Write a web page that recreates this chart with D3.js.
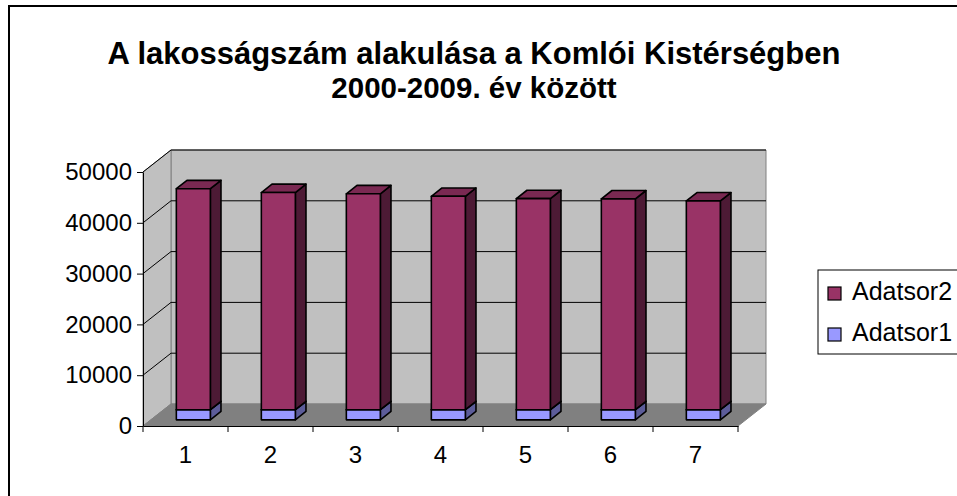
<!DOCTYPE html>
<html>
<head>
<meta charset="utf-8">
<script src="https://cdn.jsdelivr.net/npm/d3@7"></script>
<style>
  body { margin: 0; background: #fff; }
  svg { display: block; font-family: "Liberation Sans", Arial, sans-serif; }
</style>
</head>
<body>
<script>
// Data:
const categories = ["1", "2", "3", "4", "5", "6", "7"];
const adatsor1 = [2000, 2000, 2000, 2000, 2000, 2000, 2000];
const adatsor2 = [43500, 42750, 42500, 42000, 41550, 41500, 41100];
const yTicks = [0, 10000, 20000, 30000, 40000, 50000];
const seriesNames = ["Adatsor1", "Adatsor2"];
const titleLines = ["A lakosságszám alakulása a Komlói Kistérségben", "2000-2009. év között"];

// Variable setup:
const width = 957;
const height = 496;
const plotLeft = 143;
const plotRight = 738;
const plotBottom = 426;
const plotTop = 172;
const depthX = 28;
const depthY = -22;
const barFront = 0.28;
const barBack = 0.66;

const colors = {
  Adatsor1: { front: "#9999ff", side: "#5c5c99", top: "#7a7acc" },
  Adatsor2: { front: "#993366", side: "#4d1a35", top: "#7a2952" }
};

const svg = d3.select("body").append("svg")
  .attr("width", width)
  .attr("height", height);

// Chart border:
svg.append("rect")
  .attr("x", 9).attr("y", 6)
  .attr("width", 1000).attr("height", 600)
  .attr("fill", "none").attr("stroke", "#000").attr("stroke-width", 2);

// Title:
svg.append("g").selectAll("text")
  .data(titleLines)
  .enter().append("text")
  .attr("x", 474)
  .attr("y", (d, i) => 64 + i * 34)
  .attr("text-anchor", "middle")
  .attr("font-size", (d, i) => (i === 0 ? 31 : 29.5))
  .attr("font-weight", "bold")
  .text((d) => d);

// Scales:
const xScale = d3.scaleBand().domain(categories).range([plotLeft, plotRight]);
const yScale = d3.scaleLinear().domain([0, 50000]).range([plotBottom, plotTop]);

// oblique projection of a point at depth f (0 = front, 1 = back wall)
const proj = (x, y, f) => [x + f * depthX, y + f * depthY];
const poly = (pts) => pts.map((p) => p.join(",")).join(" ");

// Walls and floor:
const y0 = yScale(0);
const yMax = yScale(50000);
svg.append("polygon")
  .attr("points", poly([proj(plotLeft, y0, 1), proj(plotLeft, yMax, 1), proj(plotRight, yMax, 1), proj(plotRight, y0, 1)]))
  .attr("fill", "#c0c0c0").attr("stroke", "#808080");
svg.append("polygon")
  .attr("points", poly([[plotLeft, y0], [plotLeft, yMax], proj(plotLeft, yMax, 1), proj(plotLeft, y0, 1)]))
  .attr("fill", "#c0c0c0").attr("stroke", "#808080");
svg.append("polygon")
  .attr("points", poly([[plotLeft, y0], [plotRight, y0], proj(plotRight, y0, 1), proj(plotLeft, y0, 1)]))
  .attr("fill", "#808080").attr("stroke", "#808080");

// Gridlines:
svg.append("g").selectAll("polyline")
  .data(yTicks.filter((d) => d > 0))
  .enter().append("polyline")
  .attr("points", (d) => poly([[plotLeft, yScale(d)], proj(plotLeft, yScale(d), 1), proj(plotRight, yScale(d), 1)]))
  .attr("fill", "none").attr("stroke", "#000").attr("stroke-width", 1);

// Bars:
const stacked = categories.map((c, i) => {
  const segs = [];
  let base = 0;
  [adatsor1[i], adatsor2[i]].forEach((v, k) => {
    segs.push({ cat: c, name: seriesNames[k], y0: base, y1: base + v });
    base += v;
  });
  return segs;
});

const barWidth = xScale.bandwidth() * 0.4;
const barG = svg.append("g");
stacked.forEach((segs) => {
  segs.forEach((s) => {
    const xl = xScale(s.cat) + (xScale.bandwidth() - barWidth) / 2;
    const xr = xl + barWidth;
    const yb = yScale(s.y0);
    const yt = yScale(s.y1);
    const col = colors[s.name];
    const g = barG.append("g")
      .attr("stroke", "#000").attr("stroke-width", 1.6).attr("stroke-linejoin", "round");
    // side face
    g.append("polygon")
      .attr("points", poly([proj(xr, yb, barFront), proj(xr, yb, barBack), proj(xr, yt, barBack), proj(xr, yt, barFront)]))
      .attr("fill", col.side);
    // top face
    g.append("polygon")
      .attr("points", poly([proj(xl, yt, barFront), proj(xr, yt, barFront), proj(xr, yt, barBack), proj(xl, yt, barBack)]))
      .attr("fill", col.top);
    // front face
    g.append("polygon")
      .attr("points", poly([proj(xl, yb, barFront), proj(xr, yb, barFront), proj(xr, yt, barFront), proj(xl, yt, barFront)]))
      .attr("fill", col.front);
  });
});

// Y axis:
const yAxis = d3.axisLeft(yScale).tickValues(yTicks).tickSize(6).tickSizeOuter(0).tickFormat(d3.format("d"));
const yG = svg.append("g")
  .attr("transform", `translate(${plotLeft},0)`)
  .call(yAxis);
yG.select(".domain").attr("stroke", "#000");
yG.selectAll("text").attr("font-size", 24).attr("font-family", "Liberation Sans, Arial").attr("fill", "#000").attr("dx", "-2");

// X axis:
const xAxis = d3.axisBottom(xScale).tickSize(0).tickSizeOuter(0);
const xG = svg.append("g")
  .attr("transform", `translate(0,${plotBottom})`)
  .call(xAxis);
xG.select(".domain").attr("stroke", "#000");
xG.selectAll("text").attr("font-size", 24).attr("font-family", "Liberation Sans, Arial").attr("fill", "#000").attr("dy", "1.4em");
xG.selectAll(".cat-tick")
  .data(d3.range(categories.length + 1))
  .enter().append("line")
  .attr("class", "cat-tick")
  .attr("x1", (i) => plotLeft + i * xScale.step())
  .attr("x2", (i) => plotLeft + i * xScale.step())
  .attr("y1", 0).attr("y2", 6)
  .attr("stroke", "#000");

// Legend:
const legend = svg.append("g").attr("transform", "translate(818,270)");
legend.append("rect")
  .attr("width", 200).attr("height", 84)
  .attr("fill", "#fff").attr("stroke", "#000").attr("stroke-width", 1);
const legendItems = legend.selectAll(".item")
  .data(seriesNames.slice().reverse())
  .enter().append("g")
  .attr("class", "item")
  .attr("transform", (d, i) => `translate(10,${17 + i * 41})`);
legendItems.append("rect")
  .attr("width", 13).attr("height", 13)
  .attr("fill", (d) => colors[d].front)
  .attr("stroke", "#000").attr("stroke-width", 1.2);
legendItems.append("text")
  .attr("x", 24).attr("y", 13)
  .attr("font-size", 25)
  .text((d) => d);
</script>
</body>
</html>
